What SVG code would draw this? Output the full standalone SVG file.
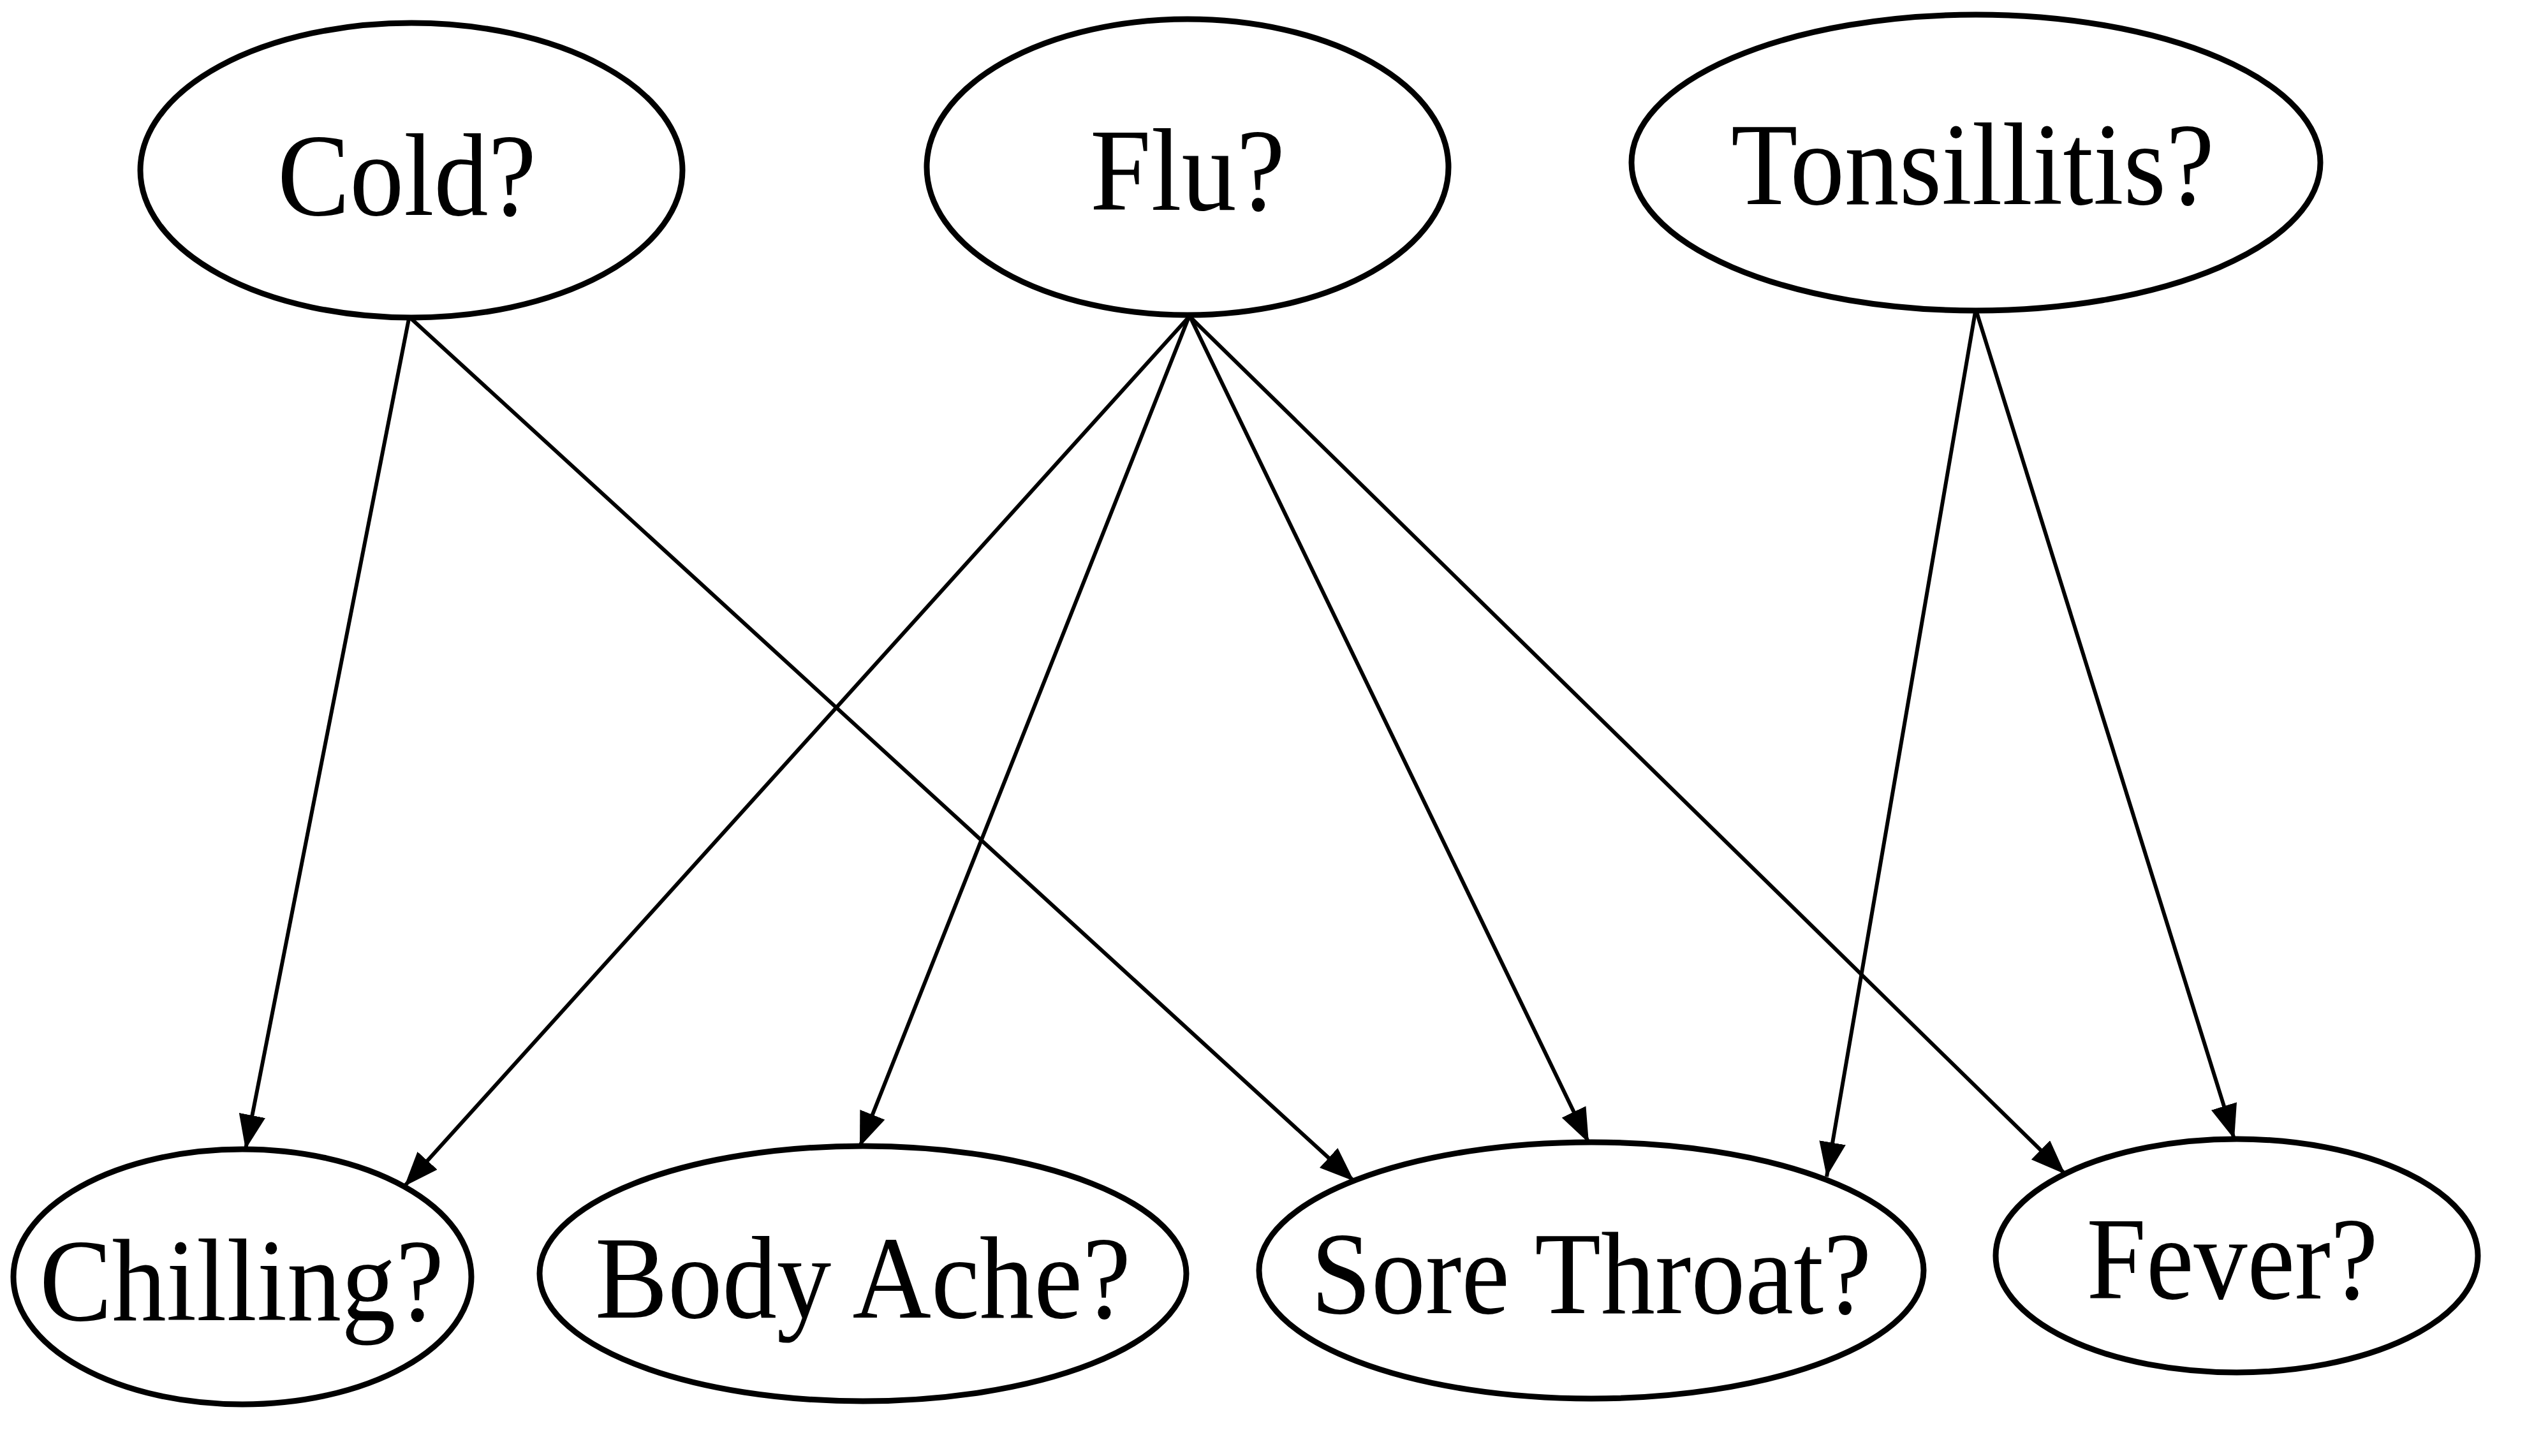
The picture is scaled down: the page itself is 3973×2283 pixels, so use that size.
<svg xmlns="http://www.w3.org/2000/svg" width="3973" height="2283" viewBox="0 0 3973 2283">
<style>
.node ellipse{fill:#fff;stroke:#000;stroke-width:9}
.node text{font-family:"Liberation Serif","Times New Roman",serif;font-size:184px;fill:#000;text-anchor:middle}
.edges line{stroke:#000;stroke-width:6;fill:none}
</style>
<defs>
<marker id="arr" markerUnits="userSpaceOnUse" viewBox="0 -21 54 42" refX="54" refY="0" markerWidth="54" markerHeight="42" orient="auto">
<path d="M0,-21 L54,0 L0,21 Z" fill="#000"/>
</marker>
</defs>
<rect width="3973" height="2283" fill="#fff"/>
<g class="edges" id="connectors">
<line x1="641" y1="500" x2="385" y2="1802" marker-end="url(#arr)"/>
<line x1="645" y1="500" x2="2123" y2="1852" marker-end="url(#arr)"/>
<line x1="1864" y1="497" x2="634" y2="1860" marker-end="url(#arr)"/>
<line x1="1864" y1="497" x2="1348" y2="1798" marker-end="url(#arr)"/>
<line x1="1866" y1="497" x2="2491" y2="1792" marker-end="url(#arr)"/>
<line x1="1866" y1="497" x2="3238" y2="1841" marker-end="url(#arr)"/>
<line x1="3097" y1="489" x2="2864" y2="1845" marker-end="url(#arr)"/>
<line x1="3099" y1="489" x2="3503" y2="1786" marker-end="url(#arr)"/>
</g>
<g class="node" id="cold">
<ellipse cx="645" cy="267" rx="425" ry="231"/>
<text x="638" y="337" textLength="406" lengthAdjust="spacingAndGlyphs">Cold?</text>
</g>
<g class="node" id="flu">
<ellipse cx="1862" cy="262" rx="409" ry="232"/>
<text x="1862" y="329" textLength="306" lengthAdjust="spacingAndGlyphs">Flu?</text>
</g>
<g class="node" id="tonsillitis">
<ellipse cx="3098" cy="255" rx="540" ry="232"/>
<text x="3093" y="320" textLength="758" lengthAdjust="spacingAndGlyphs">Tonsillitis?</text>
</g>
<g class="node" id="chilling">
<ellipse cx="380" cy="2002" rx="359" ry="200"/>
<text x="379" y="2070" textLength="634" lengthAdjust="spacingAndGlyphs">Chilling?</text>
</g>
<g class="node" id="bodyache">
<ellipse cx="1353" cy="1997" rx="507" ry="200"/>
<text x="1353" y="2066" textLength="840" lengthAdjust="spacingAndGlyphs">Body Ache?</text>
</g>
<g class="node" id="sorethroat">
<ellipse cx="2495" cy="1992" rx="521" ry="201"/>
<text x="2495" y="2059" textLength="879" lengthAdjust="spacingAndGlyphs">Sore Throat?</text>
</g>
<g class="node" id="fever">
<ellipse cx="3507" cy="1969" rx="378" ry="183"/>
<text x="3500" y="2036" textLength="457" lengthAdjust="spacingAndGlyphs">Fever?</text>
</g>
</svg>
